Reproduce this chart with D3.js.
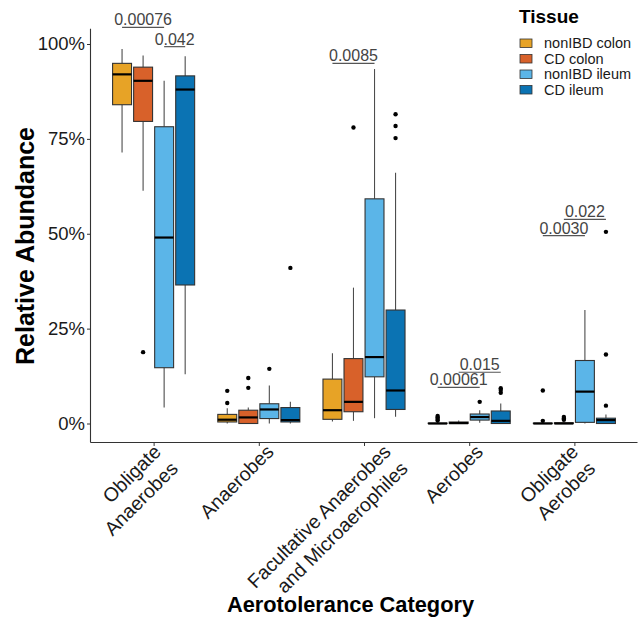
<!DOCTYPE html>
<html>
<head>
<meta charset="utf-8">
<script src="https://cdn.jsdelivr.net/npm/d3@7"></script>
<style>
  html, body { margin: 0; padding: 0; background: #fff; }
  svg { display: block; font-family: "Liberation Sans", Arial, Helvetica, sans-serif; }
</style>
</head>
<body>
<svg id="chart" width="642" height="619"></svg>
<script>
// ---------------- DATA ----------------
const categories = ["Obligate\nAnaerobes", "Anaerobes", "Facultative Anaerobes\nand Microaerophiles", "Aerobes", "Obligate\nAerobes"];
const tissues = ["nonIBD colon", "CD colon", "nonIBD ileum", "CD ileum"];
const tissueColors = ["#E7A326", "#D8612A", "#5BB5E8", "#0B73B3"];
const yTicks = [0, 0.25, 0.5, 0.75, 1];
const yTickLabels = ["0%", "25%", "50%", "75%", "100%"];

// box stats per category: [lower whisker, Q1, median, Q3, upper whisker]
const nonIBDColonStats = [
  [0.714, 0.840, 0.920, 0.949, 0.987],
  [0.000, 0.004, 0.010, 0.024, 0.040],
  [0.005, 0.011, 0.035, 0.117, 0.185],
  [0.000, 0.000, 0.000, 0.001, 0.004],
  [0.000, 0.000, 0.000, 0.001, 0.002]
];
const cdColonStats = [
  [0.613, 0.796, 0.903, 0.939, 0.970],
  [0.000, 0.000, 0.016, 0.035, 0.042],
  [0.007, 0.031, 0.057, 0.171, 0.358],
  [0.000, 0.000, 0.001, 0.004, 0.008],
  [0.000, 0.000, 0.000, 0.002, 0.004]
];
const nonIBDIleumStats = [
  [0.042, 0.147, 0.490, 0.782, 0.903],
  [0.000, 0.013, 0.037, 0.052, 0.100],
  [0.014, 0.123, 0.175, 0.592, 0.934],
  [0.002, 0.009, 0.017, 0.025, 0.035],
  [0.000, 0.003, 0.084, 0.166, 0.299]
];
const cdIleumStats = [
  [0.130, 0.365, 0.880, 0.916, 0.968],
  [0.000, 0.004, 0.009, 0.042, 0.057],
  [0.018, 0.037, 0.087, 0.299, 0.661],
  [0.000, 0.000, 0.007, 0.033, 0.053],
  [0.000, 0.000, 0.009, 0.014, 0.024]
];

// outliers per category
const nonIBDColonOutliers = [[], [0.054, 0.086], [], [0.008, 0.012, 0.016, 0.020], [0.007, 0.087]];
const cdColonOutliers = [[0.188], [0.094, 0.120], [0.780], [], [0.010, 0.013, 0.017]];
const nonIBDIleumOutliers = [[], [0.144], [], [0.057], []];
const cdIleumOutliers = [[], [0.410], [0.752, 0.784, 0.815], [0.081, 0.088, 0.093], [0.047, 0.182, 0.505]];

// significance brackets: category index, from tissue index, to tissue index, y value, label
const bracketCat = [0, 0, 2, 3, 3, 4, 4];
const bracketFrom = [0, 2, 0, 0, 1, 0, 1];
const bracketTo = [2, 3, 2, 2, 3, 2, 3];
const bracketY = [1.044, 0.993, 0.949, 0.0954, 0.135, 0.495, 0.538];
const bracketLabel = ["0.00076", "0.042", "0.0085", "0.00061", "0.015", "0.0030", "0.022"];

// ---------------- LAYOUT ----------------
const labelNudge = [8.5, 16, 28, 15, 5];   // horizontal nudge of rotated x labels (px)

// ---------------- CHART ----------------
const svg = d3.select("#chart");
const font = '"Liberation Sans", Arial, Helvetica, sans-serif';

const x = d3.scalePoint().domain(d3.range(categories.length)).range([90.5, 637.5]).padding(0.6);
const step = x.step();
const xg = d3.scaleBand().domain(d3.range(tissues.length)).range([-0.4 * step, 0.4 * step]);
const boxW = xg.bandwidth() * 0.9;
const y = d3.scaleLinear().domain([0, 1]).range([423.5, 44]);

const statsAll = [nonIBDColonStats, cdColonStats, nonIBDIleumStats, cdIleumStats];
const outAll = [nonIBDColonOutliers, cdColonOutliers, nonIBDIleumOutliers, cdIleumOutliers];
const cx = (c, t) => x(c) + xg(t) + xg.bandwidth() / 2;

// boxes
const gBoxes = svg.append("g");
tissues.forEach((t, ti) => {
  statsAll[ti].forEach((s, ci) => {
    const g = gBoxes.append("g");
    const c = cx(ci, ti);
    g.append("line").attr("x1", c).attr("x2", c).attr("y1", y(s[0])).attr("y2", y(s[1]))
      .attr("stroke", "#4d4d4d").attr("stroke-width", 1.1);
    g.append("line").attr("x1", c).attr("x2", c).attr("y1", y(s[3])).attr("y2", y(s[4]))
      .attr("stroke", "#4d4d4d").attr("stroke-width", 1.1);
    g.append("rect").attr("x", c - boxW / 2).attr("width", boxW)
      .attr("y", y(s[3])).attr("height", Math.max(0, y(s[1]) - y(s[3])))
      .attr("fill", tissueColors[ti]).attr("stroke", "#333").attr("stroke-width", 1.1);
    g.append("line").attr("x1", c - boxW / 2).attr("x2", c + boxW / 2)
      .attr("y1", y(s[2])).attr("y2", y(s[2]))
      .attr("stroke", "#000").attr("stroke-width", 2.2);
    outAll[ti][ci].forEach(v => {
      g.append("circle").attr("cx", c).attr("cy", y(v)).attr("r", 2.2).attr("fill", "#000");
    });
  });
});

// axes
const axisColor = "#333";
svg.append("line").attr("x1", 90.5).attr("x2", 90.5).attr("y1", y(1.04)).attr("y2", y(-0.05))
  .attr("stroke", axisColor).attr("stroke-width", 1.1);
svg.append("line").attr("x1", 90.5).attr("x2", 637.5).attr("y1", y(-0.05)).attr("y2", y(-0.05))
  .attr("stroke", axisColor).attr("stroke-width", 1.1);

const yAxis = d3.axisLeft(y).tickValues(yTicks).tickFormat((d, i) => yTickLabels[i]).tickSize(3.5).tickPadding(2);
const gy = svg.append("g").attr("transform", "translate(90.5,0)").call(yAxis);
gy.select(".domain").remove();
gy.selectAll(".tick line").attr("stroke", axisColor);
gy.selectAll(".tick text").attr("font-family", font).attr("font-size", 18.5).attr("fill", "#1a1a1a");

const xAxis = d3.axisBottom(x).tickSize(3.5).tickFormat("");
const gx = svg.append("g").attr("transform", `translate(0,${y(-0.05)})`).call(xAxis);
gx.select(".domain").remove();
gx.selectAll(".tick line").attr("stroke", axisColor);

// x tick labels rotated 45 (right-aligned lines)
const fs = 19.5, lh = 24;
categories.forEach((cat, ci) => {
  const lines = cat.split("\n");
  const g = svg.append("g").attr("transform", `translate(${x(ci) + labelNudge[ci]},453) rotate(-45)`);
  lines.forEach((ln, li) => {
    g.append("text").attr("x", 0).attr("y", li * lh)
      .attr("text-anchor", "end").attr("font-family", font).attr("font-size", fs)
      .attr("fill", "#1a1a1a").text(ln);
  });
});

// axis titles
svg.append("text").attr("transform", "translate(34,246) rotate(-90)")
  .attr("text-anchor", "middle").attr("font-family", font).attr("font-weight", "bold")
  .attr("font-size", 25).attr("fill", "#000").text("Relative Abundance");
svg.append("text").attr("x", 350.5).attr("y", 612)
  .attr("text-anchor", "middle").attr("font-family", font).attr("font-weight", "bold")
  .attr("font-size", 21.8).attr("fill", "#000").text("Aerotolerance Category");

// brackets
bracketLabel.forEach((lab, i) => {
  const x1 = cx(bracketCat[i], bracketFrom[i]);
  const x2 = cx(bracketCat[i], bracketTo[i]);
  const yy = y(bracketY[i]);
  svg.append("line").attr("x1", x1).attr("x2", x2).attr("y1", yy).attr("y2", yy)
    .attr("stroke", "#555").attr("stroke-width", 1.2);
  svg.append("text").attr("x", (x1 + x2) / 2).attr("y", yy - 2)
    .attr("text-anchor", "middle").attr("font-family", font).attr("font-size", 16)
    .attr("fill", "#444").text(lab);
});

// legend
const lg = svg.append("g");
lg.append("text").attr("x", 519).attr("y", 23).attr("font-family", font).attr("font-weight", "bold")
  .attr("font-size", 19).attr("fill", "#000").text("Tissue");
tissues.forEach((t, i) => {
  const yy = 39 + i * 15.5;
  lg.append("rect").attr("x", 520).attr("y", yy).attr("width", 12).attr("height", 8.5)
    .attr("fill", tissueColors[i]).attr("stroke", "#333").attr("stroke-width", 0.8);
  lg.append("text").attr("x", 544).attr("y", yy + 4.25).attr("dy", "0.36em")
    .attr("font-family", font).attr("font-size", 14.5).attr("fill", "#1a1a1a").text(t);
});
</script>
</body>
</html>
